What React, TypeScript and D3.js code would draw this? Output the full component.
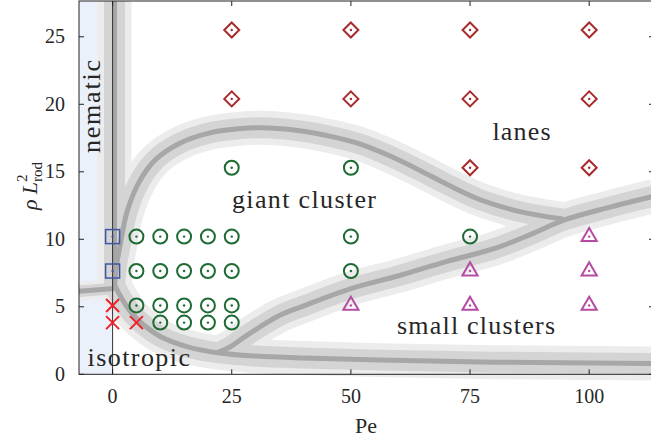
import React from "react";
import * as d3 from "d3";

// Axis extents and ticks
const peDomain: [number, number] = [-7.05, 113.6];
const rhoDomain: [number, number] = [0, 27.65];
const peTicks = [0, 25, 50, 75, 100];
const rhoTicks = [0, 5, 10, 15, 20, 25];

// State points (Pe, ρ L_rod^2) per observed phase
const nematicPts: [number, number][] = [[0, 10.2], [0, 7.65]];
const isotropicPts: [number, number][] = [[0, 5.1], [0, 3.83], [5, 3.83]];
const giantClusterPts: [number, number][] = [
  [5, 10.2], [5, 7.65], [5, 5.1],
  [10, 10.2], [10, 7.65], [10, 5.1], [10, 3.83],
  [15, 10.2], [15, 7.65], [15, 5.1], [15, 3.83],
  [20, 10.2], [20, 7.65], [20, 5.1], [20, 3.83],
  [25, 15.3], [25, 10.2], [25, 7.65], [25, 5.1], [25, 3.83],
  [50, 15.3], [50, 10.2], [50, 7.65],
  [75, 10.2],
];
const lanePts: [number, number][] = [
  [25, 25.5], [25, 20.4],
  [50, 25.5], [50, 20.4],
  [75, 25.5], [75, 20.4], [75, 15.3],
  [100, 25.5], [100, 20.4], [100, 15.3],
];
const smallClusterPts: [number, number][] = [
  [50, 5.1],
  [75, 7.65], [75, 5.1],
  [100, 10.2], [100, 7.65], [100, 5.1],
];

// Phase boundaries
const nematicBoundary: [number, number][] = [[0.4, 27.65], [0.4, 6.3]];
const isoNematicBoundary: [number, number][] = [[-7.05, 6.15], [0.4, 6.35]];
const giantUpperBoundary: [number, number][] = [
  [0.4, 6.5], [0.8, 8.0], [1.6, 9.6], [3.0, 12.0], [5.5, 14.2], [9, 15.9],
  [14, 17.1], [20, 17.85], [27, 18.2], [33, 18.25], [40, 18.0], [46, 17.6],
  [52, 17.05], [58, 16.2], [64.5, 15.1], [70, 14.1], [77, 12.95],
  [85.5, 12.05], [94.5, 11.5],
];
const isotropicBoundary: [number, number][] = [
  [0.4, 6.6], [1.3, 6.0], [3.0, 5.0], [4.6, 4.3], [6.1, 3.78], [10, 2.8],
  [15.6, 2.05], [22, 1.6], [30, 1.35], [40, 1.2], [56, 1.05], [80, 0.9],
  [113.6, 0.8],
];
const smallClusterBoundary: [number, number][] = [
  [22, 1.6], [24.5, 2.0], [28, 2.85], [35, 4.35], [40, 5.05], [50, 6.35],
  [60, 7.3], [70, 8.35], [80, 9.3], [88, 10.4], [94.5, 11.4], [104, 12.35],
  [113.6, 13.2],
];

const W = 651;
const H = 441;
const left = 79;
const right = 654;
const top = 1;
const bottom = 374.3;

const FONT = '"Liberation Serif", serif';
const TXT = "#262626";

const x = d3.scaleLinear().domain(peDomain).range([left, right]);
const y = d3.scaleLinear().domain(rhoDomain).range([bottom, top]);

const line = d3
  .line<[number, number]>()
  .x((d) => x(d[0]))
  .y((d) => y(d[1]))
  .curve(d3.curveCatmullRom.alpha(0.5));

const straight = d3
  .line<[number, number]>()
  .x((d) => x(d[0]))
  .y((d) => y(d[1]));

const bands = [
  { color: "#ececec", width: 34 },
  { color: "#d4d4d4", width: 21 },
  { color: "#a7a7a7", width: 5 },
];

const curves = [
  { d: straight(nematicBoundary)!, scale: 1 },
  { d: straight(isoNematicBoundary)!, scale: 0.55 },
  { d: line(giantUpperBoundary)!, scale: 1 },
  { d: line(isotropicBoundary)!, scale: 1 },
  { d: line(smallClusterBoundary)!, scale: 1 },
];

const Dot = ({ cx, cy, color }: { cx: number; cy: number; color: string }) => (
  <circle cx={cx} cy={cy} r={1.2} fill={color} />
);

export default function App() {
  const green = "#1d6b33";
  const blue = "#3f56a6";
  const red = "#ee2028";
  const lane = "#a82a2c";
  const purple = "#b54ba2";

  return (
    <svg
      width={W}
      height={H}
      style={{ position: "absolute", left: 0, top: 0, background: "#fff", fontFamily: FONT }}
    >
      {/* nematic side */}
      <rect x={left} y={top} width={x(0) - left} height={bottom - top} fill="#ebf1fa" />

      {/* phase boundaries with uncertainty bands */}
      {bands.map((b, i) => (
        <g key={i}>
          {curves.map((c, j) => (
            <path
              key={j}
              d={c.d}
              fill="none"
              stroke={b.color}
              strokeWidth={b.width * (i === 2 ? 1 : c.scale)}
              strokeLinejoin="round"
            />
          ))}
        </g>
      ))}

      {/* Pe = 0 */}
      <line x1={x(0)} x2={x(0)} y1={top} y2={bottom} stroke="#333" strokeWidth={1} />

      {/* markers */}
      {giantClusterPts.map(([p, r], i) => (
        <g key={"g" + i}>
          <circle cx={x(p)} cy={y(r)} r={7} fill="none" stroke={green} strokeWidth={2} />
          <Dot cx={x(p)} cy={y(r)} color={green} />
        </g>
      ))}
      {nematicPts.map(([p, r], i) => (
        <g key={"n" + i}>
          <rect x={x(p) - 7} y={y(r) - 7} width={14} height={14} fill="none" stroke={blue} strokeWidth={1.5} />
          <Dot cx={x(p)} cy={y(r)} color={blue} />
        </g>
      ))}
      {isotropicPts.map(([p, r], i) => (
        <path
          key={"i" + i}
          d={`M${x(p) - 6.5},${y(r) - 6.5}L${x(p) + 6.5},${y(r) + 6.5}M${x(p) - 6.5},${y(r) + 6.5}L${x(p) + 6.5},${y(r) - 6.5}`}
          stroke={red}
          strokeWidth={2}
        />
      ))}
      {lanePts.map(([p, r], i) => (
        <g key={"l" + i}>
          <path
            d={`M${x(p)},${y(r) - 7.5}L${x(p) + 7.5},${y(r)}L${x(p)},${y(r) + 7.5}L${x(p) - 7.5},${y(r)}Z`}
            fill="none"
            stroke={lane}
            strokeWidth={2}
          />
          <Dot cx={x(p)} cy={y(r)} color={lane} />
        </g>
      ))}
      {smallClusterPts.map(([p, r], i) => (
        <g key={"s" + i}>
          <path
            d={`M${x(p)},${y(r) - 8.7}L${x(p) + 7.6},${y(r) + 4.4}L${x(p) - 7.6},${y(r) + 4.4}Z`}
            fill="none"
            stroke={purple}
            strokeWidth={2}
            strokeLinejoin="miter"
          />
          <Dot cx={x(p)} cy={y(r)} color={purple} />
        </g>
      ))}

      {/* region labels */}
      <g fill={TXT} fontSize={26} style={{ fontFamily: FONT }}>
        <text x={232} y={208} textLength={144} lengthAdjust="spacing">giant cluster</text>
        <text x={492.5} y={139.5} textLength={58} lengthAdjust="spacing">lanes</text>
        <text x={397} y={333.5} textLength={158} lengthAdjust="spacing">small clusters</text>
        <text x={87.5} y={366} textLength={102.5} lengthAdjust="spacing">isotropic</text>
        <text transform="translate(100,153) rotate(-90)" textLength={93} lengthAdjust="spacing">nematic</text>
      </g>

      {/* frame */}
      <rect x={left} y={top} width={right - left} height={bottom - top} fill="none" stroke="#222" strokeWidth={1} />

      {/* ticks */}
      {peTicks.map((t) => (
        <g key={"xt" + t}>
          <line x1={x(t)} x2={x(t)} y1={bottom} y2={bottom - 5} stroke="#222" />
          <line x1={x(t)} x2={x(t)} y1={top} y2={top + 5} stroke="#222" />
          <text x={x(t)} y={402.5} textAnchor="middle" fontSize={20} fill={TXT} style={{ fontFamily: FONT }}>
            {t}
          </text>
        </g>
      ))}
      {rhoTicks.map((t) => (
        <g key={"yt" + t}>
          <line x1={left} x2={left + 5} y1={y(t)} y2={y(t)} stroke="#222" />
          <line x1={right} x2={right - 5} y1={y(t)} y2={y(t)} stroke="#222" />
          <text x={65} y={y(t) + 6.5} textAnchor="end" fontSize={20} fill={TXT} style={{ fontFamily: FONT }}>
            {t}
          </text>
        </g>
      ))}

      {/* axis titles */}
      <text x={366} y={433} textAnchor="middle" fontSize={22} fill={TXT} style={{ fontFamily: FONT }}>
        Pe
      </text>
      <text
        transform="translate(37,186) rotate(-90)"
        textAnchor="middle"
        fontSize={22}
        fill={TXT}
        style={{ fontFamily: FONT }}
      >
        <tspan fontStyle="italic">ρ</tspan>
        <tspan dx={5} fontStyle="italic">L</tspan>
        <tspan dy={-10} fontSize={15}>2</tspan>
        <tspan dx={-7.5} dy={15} fontSize={15}>rod</tspan>
      </text>
    </svg>
  );
}
